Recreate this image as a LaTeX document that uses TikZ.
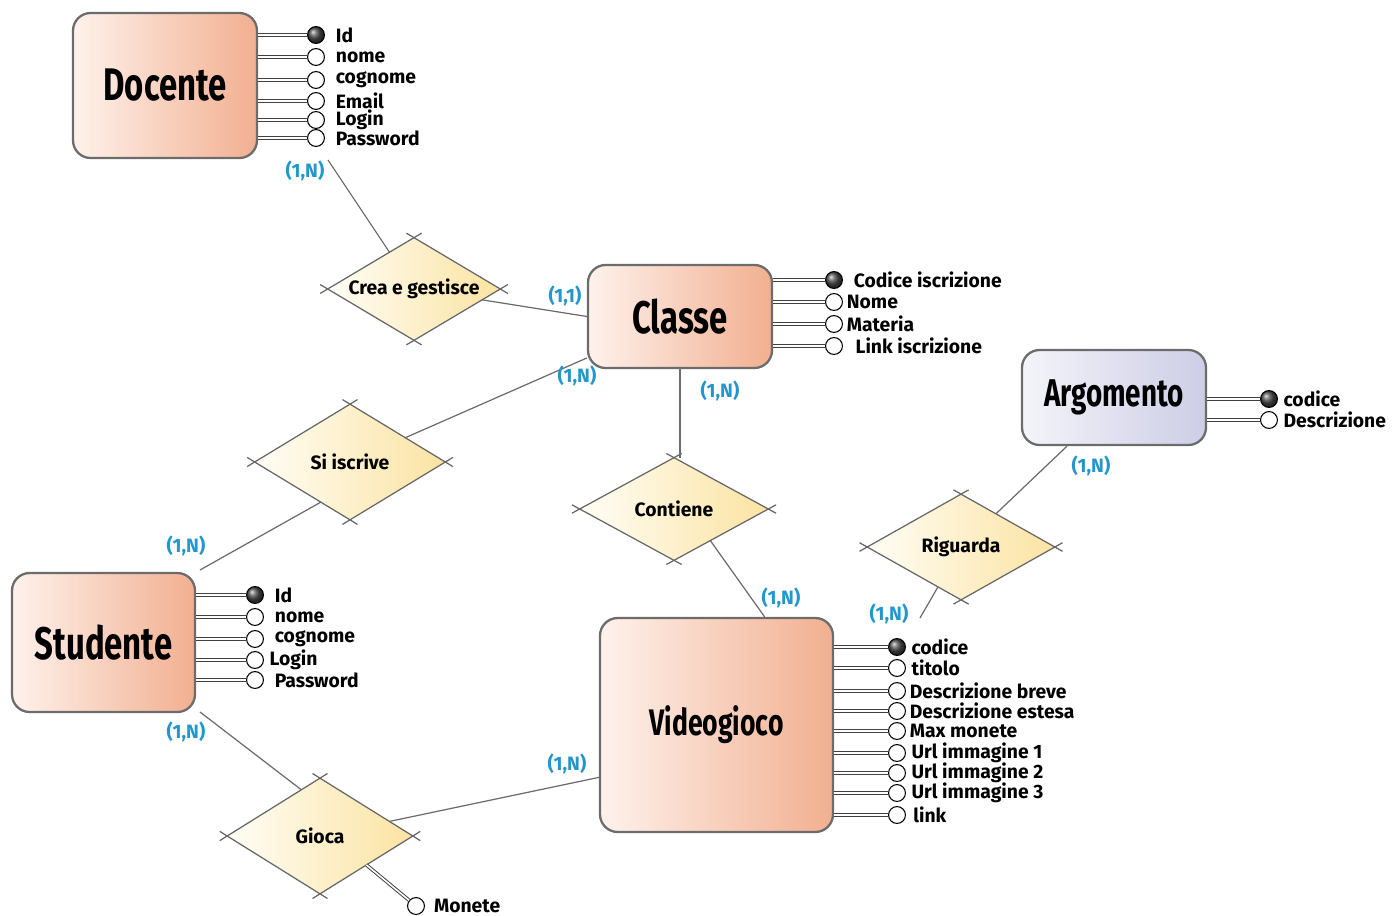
\documentclass[tikz,border=0pt]{standalone}
\usepackage{fontspec}
\usepackage{graphicx}
\setmainfont{Fira Sans}
\usetikzlibrary{positioning}
\usetikzlibrary{shapes.geometric}
\usetikzlibrary{calc}

\definecolor{entL}{HTML}{FEF2EC}
\definecolor{entR}{HTML}{F2AF90}
\definecolor{lavL}{HTML}{F4F4FA}
\definecolor{lavR}{HTML}{CDCDE6}
\definecolor{relL}{HTML}{FFFDF6}
\definecolor{relR}{HTML}{FBE3A2}
\definecolor{cardblue}{HTML}{2396CC}

\newcommand{\ename}[1]{\scalebox{0.72}[1]{#1}}

\begin{document}
\begin{tikzpicture}[x=0.02cm, y=-0.02cm,
    entity/.style={rectangle, rounded corners=10pt, draw=gray!85!black,
        line width=1.3pt, left color=entL, right color=entR, inner sep=0pt,
        font=\bfseries\fontsize{26}{26}\selectfont},
    sketch/.style={draw=gray!80!black, line width=0.7pt,
        shorten <=-5pt, shorten >=-5pt},
    rel/.style={diamond, aspect=1.8, left color=relL, right color=relR,
        inner sep=0pt, font=\bfseries\fontsize{11}{13}\selectfont,
        append after command={
            (\tikzlastnode.west) edge[sketch] (\tikzlastnode.north)
            (\tikzlastnode.north) edge[sketch] (\tikzlastnode.east)
            (\tikzlastnode.east) edge[sketch] (\tikzlastnode.south)
            (\tikzlastnode.south) edge[sketch] (\tikzlastnode.west)}},
    link/.style={draw=gray!85!black, line width=0.7pt},
    card/.style={text=cardblue, font=\bfseries\fontsize{11}{13}\selectfont},
    attr/.style={circle, draw=black, line width=0.6pt, fill=white,
        minimum size=9.6pt, inner sep=0pt},
    key/.style={attr, shading=ball, ball color=black!70},
    attrline/.style={draw=black!75, double=white, double distance=0.9pt,
        line width=0.55pt},
    every label/.style={font=\bfseries\fontsize{11}{13}\selectfont, inner sep=1pt}]

    \useasboundingbox (0,0) rectangle (1400,916);

    % entities
    \node [entity, minimum width=3.68cm, minimum height=2.9cm] (docente) at (165,85.5) {\ename{Docente}};
    \node [entity, minimum width=3.68cm, minimum height=2.06cm] (classe) at (680,316.5) {\ename{Classe}};
    \node [entity, minimum width=3.68cm, minimum height=1.9cm, left color=lavL, right color=lavR,
           font=\bfseries\fontsize{22}{22}\selectfont] (argomento) at (1114,397.5) {\ename{Argomento}};
    \node [entity, minimum width=3.66cm, minimum height=2.78cm] (studente) at (103.5,642.5) {\ename{Studente}};
    \node [entity, minimum width=4.66cm, minimum height=4.28cm,
           font=\bfseries\fontsize{21}{21}\selectfont] (videogioco) at (716.5,725) {\ename{Videogioco}};

    % relationships
    \node [rel, minimum width=3.44cm, minimum height=2.04cm] (crea) at (414,289) {Crea e gestisce};
    \node [rel, minimum width=3.8cm, minimum height=2.3cm] (siiscrive) at (350,462) {Si iscrive};
    \node [rel, minimum width=3.76cm, minimum height=2.04cm] (contiene) at (674,509) {Contiene};
    \node [rel, minimum width=3.74cm, minimum height=2.1cm] (riguarda) at (961,547) {Riguarda};
    \node [rel, minimum width=3.7cm, minimum height=2.3cm] (gioca) at (320,836) {Gioca};

    % attributes of Docente
    \node [key, label={[label distance=5pt]right:Id}] (d1) at (316,35) {};
    \node [attr, label={[label distance=5pt]right:nome}] (d2) at (316,57) {};
    \node [attr, label={[label distance=5pt]right:cognome}] (d3) at (316,80) {};
    \node [attr, label={[label distance=5pt]right:Email}] (d4) at (316,101) {};
    \node [attr, label={[label distance=5pt]right:Login}] (d5) at (316,120) {};
    \node [attr, label={[label distance=5pt]right:Password}] (d6) at (316,138) {};
    \draw [attrline] (docente.east |- d1) -- (d1);
    \draw [attrline] (docente.east |- d2) -- (d2);
    \draw [attrline] (docente.east |- d3) -- (d3);
    \draw [attrline] (docente.east |- d4) -- (d4);
    \draw [attrline] (docente.east |- d5) -- (d5);
    \draw [attrline] (docente.east |- d6) -- (d6);

    % attributes of Classe
    \node [key, label={[label distance=5pt]right:Codice iscrizione}] (c1) at (834,280) {};
    \node [attr, label={[label distance=1pt]right:Nome}] (c2) at (834,302) {};
    \node [attr, label={[label distance=1pt]right:Materia}] (c3) at (834,324) {};
    \node [attr, label={[label distance=6pt]right:Link iscrizione}] (c4) at (834,346) {};
    \draw [attrline] (classe.east |- c1) -- (c1);
    \draw [attrline] (classe.east |- c2) -- (c2);
    \draw [attrline] (classe.east |- c3) -- (c3);
    \draw [attrline] (classe.east |- c4) -- (c4);

    % attributes of Argomento
    \node [key, label={[label distance=2pt]right:codice}] (a1) at (1269,399) {};
    \node [attr, label={[label distance=2pt]right:Descrizione}] (a2) at (1269,420) {};
    \draw [attrline] (argomento.east |- a1) -- (a1);
    \draw [attrline] (argomento.east |- a2) -- (a2);

    % attributes of Studente
    \node [key, label={[label distance=5pt]right:Id}] (s1) at (255,595) {};
    \node [attr, label={[label distance=5pt]right:nome}] (s2) at (255,617) {};
    \node [attr, label={[label distance=5pt]right:cognome}] (s3) at (255,639) {};
    \node [attr, label={[label distance=2pt]right:Login}] (s4) at (255,660) {};
    \node [attr, label={[label distance=5pt]right:Password}] (s5) at (255,680) {};
    \draw [attrline] (studente.east |- s1) -- (s1);
    \draw [attrline] (studente.east |- s2) -- (s2);
    \draw [attrline] (studente.east |- s3) -- (s3);
    \draw [attrline] (studente.east |- s4) -- (s4);
    \draw [attrline] (studente.east |- s5) -- (s5);

    % attributes of Videogioco
    \node [key, label={[label distance=2pt]right:codice}] (v1) at (897,647) {};
    \node [attr, label={[label distance=2pt]right:titolo}] (v2) at (897,668) {};
    \node [attr, label={[label distance=1pt]right:Descrizione breve}] (v3) at (897,691) {};
    \node [attr, label={[label distance=1pt]right:Descrizione estesa}] (v4) at (897,711) {};
    \node [attr, label={[label distance=1pt]right:Max monete}] (v5) at (897,731) {};
    \node [attr, label={[label distance=2pt]right:Url immagine 1}] (v6) at (897,753) {};
    \node [attr, label={[label distance=2pt]right:Url immagine 2}] (v7) at (897,773) {};
    \node [attr, label={[label distance=2pt]right:Url immagine 3}] (v8) at (897,793) {};
    \node [attr, label={[label distance=3pt]right:link}] (v9) at (897,815) {};
    \draw [attrline] (videogioco.east |- v1) -- (v1);
    \draw [attrline] (videogioco.east |- v2) -- (v2);
    \draw [attrline] (videogioco.east |- v3) -- (v3);
    \draw [attrline] (videogioco.east |- v4) -- (v4);
    \draw [attrline] (videogioco.east |- v5) -- (v5);
    \draw [attrline] (videogioco.east |- v6) -- (v6);
    \draw [attrline] (videogioco.east |- v7) -- (v7);
    \draw [attrline] (videogioco.east |- v8) -- (v8);
    \draw [attrline] (videogioco.east |- v9) -- (v9);

    % attribute of Gioca
    \node [attr, label={[label distance=4pt]right:Monete}] (monete) at (416,906) {};
    \draw [attrline] (gioca.south east) -- (monete);

    % connectors
    \coordinate (dc) at (328,160);
    \coordinate (sc) at (200,570);
    \coordinate (rv) at (920,618);
    \coordinate (sg) at (200,712);
    \draw [link] (dc) -- (crea);
    \draw [link] (crea) -- (classe.west);
    \draw [link] (classe.204) -- (siiscrive);
    \draw [link] (siiscrive.234) -- (sc);
    \draw [link] (classe.south) -- (classe.south |- contiene.north);
    \draw [link] (contiene.-41) -- (videogioco.66);
    \draw [link] (argomento.226) -- (riguarda);
    \draw [link] (riguarda) -- (rv);
    \draw [link] (sg) -- (gioca.112);
    \draw [link] (videogioco.204) -- (gioca);

    % cardinalities
    \node [card] (k1) at (305,171) {(1,N)};
    \node [card] (k2) at (565,296) {(1,1)};
    \node [card] (k3) at (577,376) {(1,N)};
    \node [card] (k4) at (186,546) {(1,N)};
    \node [card] (k5) at (720,391) {(1,N)};
    \node [card] (k6) at (781,598) {(1,N)};
    \node [card] (k7) at (1091,466) {(1,N)};
    \node [card] (k8) at (889,614) {(1,N)};
    \node [card] (k9) at (186,732) {(1,N)};
    \node [card] (k10) at (567,764) {(1,N)};
\end{tikzpicture}
\end{document}
